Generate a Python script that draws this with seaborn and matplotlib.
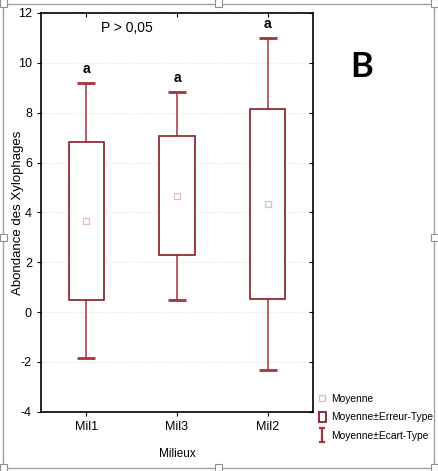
import numpy as np
import pandas as pd
import seaborn as sns
import matplotlib
matplotlib.use('Agg')
import matplotlib.pyplot as plt
from matplotlib import font_manager
from matplotlib.lines import Line2D
from matplotlib.patches import Rectangle, Patch
from matplotlib.path import Path

# ---- data ----
milieux = ['Mil1', 'Mil3', 'Mil2']
moyenne = [3.67, 4.67, 4.33]
erreur_type = [3.17, 2.38, 3.82]
ecart_type = [5.53, 4.18, 6.67]
lettres = ['a', 'a', 'a']
yticks = [-4, -2, 0, 2, 4, 6, 8, 10, 12]

df = pd.DataFrame({'milieu': milieux, 'moy': moyenne,
                   'se': erreur_type, 'sd': ecart_type})
df['se_lo'] = df.moy - df.se
df['se_hi'] = df.moy + df.se
df['sd_lo'] = df.moy - df.sd
df['sd_hi'] = df.moy + df.sd

sns.set_theme(style='white')
names = {f.name for f in font_manager.fontManager.ttflist}
have_narrow = 'Liberation Sans Narrow' in names
narrow = ['Liberation Sans Narrow' if have_narrow else 'Liberation Sans', 'DejaVu Sans']
fs = 10 if have_narrow else 8.5
plt.rcParams['font.family'] = narrow
plt.rcParams['axes.unicode_minus'] = False
plt.rcParams['text.color'] = 'black'
plt.rcParams['axes.labelcolor'] = 'black'
plt.rcParams['xtick.color'] = 'black'
plt.rcParams['ytick.color'] = 'black'

box_col = '#8b1a22'
whisk_col = '#b4505a'
cap_col = '#a83038'
mean_col = '#e8b8c4'

fig = plt.figure(figsize=(4.38, 4.71), dpi=100)
ax = fig.add_axes([0.0936, 0.1258, 0.6210, 0.8466])

pos = np.arange(len(df))
# boxes: mean +/- SE
ax.bar(df.milieu, df.se_hi - df.se_lo, bottom=df.se_lo, width=0.39,
       facecolor='white', edgecolor=box_col, linewidth=1.2, zorder=3)
# whiskers: mean +/- SD
ax.vlines(pos, df.sd_lo, df.se_lo, color=whisk_col, lw=1.3, zorder=2)
ax.vlines(pos, df.se_hi, df.sd_hi, color=whisk_col, lw=1.3, zorder=2)
ax.hlines(df.sd_lo, pos - 0.1, pos + 0.1, color=cap_col, lw=2, zorder=2)
ax.hlines(df.sd_hi, pos - 0.1, pos + 0.1, color=cap_col, lw=2, zorder=2)
# means
sns.scatterplot(data=df, x='milieu', y='moy', marker='s', s=18,
                facecolor='none', edgecolor=mean_col, linewidth=0.9,
                ax=ax, zorder=4, legend=False)

for i, (l, top) in enumerate(zip(lettres, df.sd_hi)):
    ax.text(i, top + 0.28, l, ha='center', va='bottom', fontsize=fs + 1.5,
            fontweight='bold')
ax.text(0.45, 11.4, 'P > 0,05', ha='center', va='center', fontsize=fs + 1.5)

ax.set_xlim(-0.5, 2.5)
ax.set_ylim(-4, 12)
ax.set_yticks(yticks)
ax.grid(axis='y', color='#dddddd', linestyle=':', linewidth=0.8)
ax.set_axisbelow(True)
for s in ax.spines.values():
    s.set_color('black')
    s.set_linewidth(1.2)
ax.tick_params(axis='both', labelsize=fs + 0.5, length=3, width=0.8,
               direction='out', left=True, bottom=True)
ax.tick_params(axis='both', which='both', top=True, right=True)
for line in ax.yaxis.get_ticklines()[1::2]:
    line.set_marker(0)        # right ticks point inward
for line in ax.xaxis.get_ticklines()[1::2]:
    line.set_marker(3)        # top ticks point inward
ax.set_xlabel('Milieux', fontsize=fs)
ax.xaxis.set_label_coords(0.5, -0.09)
ax.set_ylabel('Abondance des Xylophages', fontsize=9.5,
              family=['Liberation Sans', 'DejaVu Sans'])
ax.yaxis.set_label_coords(-0.062, 0.5)

fig.text(0.826, 0.858, 'B', ha='center', va='center', fontsize=25,
         fontweight='bold', family=['Lato', 'DejaVu Sans'])

# legend
ibar = Path([(-0.45, 1), (0.45, 1), (0, 1), (0, -1), (-0.45, -1), (0.45, -1)],
            [Path.MOVETO, Path.LINETO, Path.MOVETO, Path.LINETO,
             Path.MOVETO, Path.LINETO])
handles = [
    Line2D([], [], ls='none', marker='s', ms=5, mfc='none', mec=mean_col),
    Patch(facecolor='white', edgecolor=box_col, lw=1.3),
    Line2D([], [], ls='none', marker=ibar, ms=10, mec=cap_col, mew=1.6),
]
fig.legend(handles, ['Moyenne', 'Moyenne\u00b1Erreur-Type',
                     'Moyenne\u00b1Ecart-Type'],
           loc='upper left', bbox_to_anchor=(0.728, 0.165), frameon=False,
           fontsize=7.4, handlelength=0.7, handleheight=1.2,
           handletextpad=0.45, labelspacing=0.75, borderaxespad=0,
           borderpad=0)

# outer frame with selection handles
fw, fh = 438, 471
fig.add_artist(Rectangle((3 / fw, 3 / fh), 431 / fw, 464 / fh,
                         transform=fig.transFigure, fill=False,
                         edgecolor='#a0a0a0', lw=1))
for hx, hy in [(3, 3), (218, 3), (434, 3), (3, 237), (434, 237),
               (3, 467), (218, 467), (434, 467)]:
    fig.add_artist(Rectangle(((hx - 3.5) / fw, (fh - hy - 3.5) / fh),
                             7 / fw, 7 / fh, transform=fig.transFigure,
                             facecolor='white', edgecolor='#909090', lw=0.8))

fig.savefig('out.png', dpi=100)
